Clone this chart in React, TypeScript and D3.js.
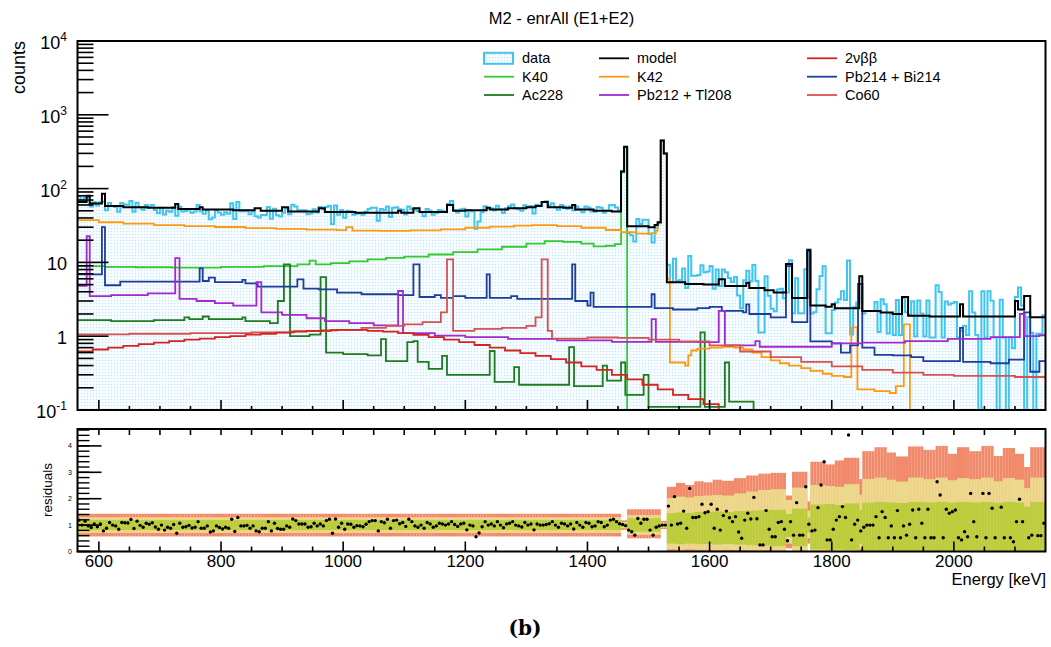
import React from "react";
import * as d3 from "d3";

type Step = [number, number];

const E_MIN = 565;
const E_MAX = 2150;
const BIN = 5;

// histograms as [lower bin edge (keV), counts]
const modelSteps: Step[] = [
  [565, 66], [580, 80], [585, 63], [605, 85], [610, 58], [640, 56], [680, 55], [725, 62], [730, 53],
  [765, 56], [770, 52], [820, 51], [855, 54], [865, 50], [900, 56], [910, 49], [960, 54], [970, 48],
  [1020, 47], [1090, 50], [1095, 47], [1115, 54], [1125, 48], [1170, 60], [1180, 50], [1200, 51],
  [1235, 55], [1240, 52], [1270, 54], [1300, 56], [1315, 58], [1325, 66], [1335, 56], [1360, 55],
  [1375, 60], [1380, 52], [1410, 50], [1440, 49], [1455, 170], [1460, 370], [1465, 31], [1500, 30],
  [1510, 32], [1515, 35], [1520, 447], [1525, 300], [1530, 5.4], [1560, 5.1], [1590, 5.0],
  [1615, 5.9], [1625, 4.8], [1660, 5.3], [1665, 4.5], [1690, 4.2], [1705, 3.9], [1725, 9.5],
  [1735, 3.3], [1760, 14.6], [1765, 2.6], [1790, 2.5], [1800, 2.7], [1805, 2.4], [1845, 6.5],
  [1850, 2.2], [1880, 2.1], [1900, 2.0], [1915, 3.4], [1925, 1.9], [1960, 1.85], [2010, 2.7],
  [2015, 1.85], [2100, 3.0], [2105, 2.3], [2115, 3.5], [2125, 1.8],
];

const bbSteps: Step[] = [
  [565, 0.62], [590, 0.66], [615, 0.7], [640, 0.74], [665, 0.78], [690, 0.82], [715, 0.86],
  [740, 0.9], [765, 0.93], [790, 0.97], [815, 1.0], [840, 1.05], [865, 1.08], [890, 1.12],
  [915, 1.15], [940, 1.18], [965, 1.2], [990, 1.22], [1015, 1.22], [1040, 1.18], [1065, 1.15],
  [1090, 1.1], [1115, 1.04], [1140, 0.97], [1165, 0.9], [1190, 0.83], [1215, 0.76], [1240, 0.7],
  [1265, 0.64], [1290, 0.59], [1315, 0.54], [1340, 0.49], [1365, 0.44], [1390, 0.39], [1415, 0.35],
  [1440, 0.3], [1465, 0.26], [1490, 0.22], [1515, 0.19], [1540, 0.16], [1565, 0.14], [1590, 0.12],
  [1615, 0.1], [1640, 0.08],
];

const k40Steps: Step[] = [
  [565, 8.9], [610, 8.7], [660, 8.6], [720, 8.5], [800, 8.7], [870, 8.9], [925, 9.4], [945, 10.6],
  [955, 9.4], [980, 9.8], [1010, 10.3], [1040, 11], [1070, 11.5], [1100, 12], [1140, 12.8],
  [1180, 13.8], [1220, 15], [1260, 16.3], [1300, 18], [1330, 19.4], [1360, 19], [1390, 18],
  [1410, 16.5], [1430, 16.8], [1445, 17.7], [1455, 166], [1460, 365], [1465, 0],
];

const k42Steps: Step[] = [
  [565, 37.5], [600, 35], [640, 33.5], [690, 32], [740, 31], [790, 30.2], [840, 29.2], [890, 28.4],
  [940, 27.8], [990, 27.3], [1005, 30], [1015, 27], [1060, 26.8], [1110, 27.2], [1160, 28],
  [1200, 29.5], [1240, 30.5], [1280, 31.5], [1310, 32], [1350, 31], [1390, 29.5], [1430, 27.5],
  [1455, 25.6], [1480, 24.5], [1505, 25], [1512, 27], [1515, 35], [1520, 447], [1525, 300],
  [1530, 6], [1535, 0.44], [1560, 0.4], [1565, 0.55], [1570, 0.64], [1580, 0.68], [1600, 0.7],
  [1620, 0.72], [1640, 0.7], [1655, 0.66], [1670, 0.6], [1685, 0.52], [1700, 0.47], [1715, 0.43],
  [1730, 0.4], [1750, 0.37], [1765, 0.34], [1785, 0.31], [1800, 0.29], [1820, 0.28], [1832, 1.32],
  [1842, 0.19], [1870, 0.18], [1895, 0.17], [1905, 0.21], [1918, 1.45], [1928, 0],
];

const biSteps: Step[] = [
  [565, 6.9], [605, 30], [610, 4.9], [635, 5.5], [700, 5.5], [765, 8.3], [770, 5.6], [780, 6.2],
  [790, 5.4], [835, 5.8], [840, 5.2], [860, 4.7], [925, 5.9], [935, 4.4], [960, 4.3], [990, 3.9],
  [1030, 3.7], [1090, 3.6], [1115, 9.4], [1125, 3.4], [1150, 3.6], [1160, 3.3], [1180, 3.5],
  [1200, 3.3], [1235, 6.9], [1240, 3.3], [1275, 3.5], [1285, 3.2], [1375, 9.4], [1380, 3.0],
  [1400, 2.6], [1405, 3.9], [1410, 2.5], [1460, 2.5], [1505, 3.7], [1510, 2.4], [1540, 2.3],
  [1580, 2.4], [1600, 2.5], [1620, 2.2], [1655, 2.1], [1660, 2.7], [1665, 2.0], [1700, 1.8],
  [1725, 8.9], [1735, 1.55], [1760, 14.6], [1765, 0.85], [1800, 0.8], [1815, 0.6], [1830, 0.75],
  [1843, 5.1], [1850, 0.7], [1870, 0.56], [1900, 0.55], [1930, 0.52], [1950, 0.46], [2010, 1.3],
  [2015, 0.45], [2060, 0.43], [2090, 0.48], [2115, 2.1], [2125, 0.33], [2140, 0.46],
];

const acSteps: Step[] = [
  [565, 1.65], [620, 1.6], [690, 1.65], [740, 1.8], [748, 1.7], [770, 1.85], [780, 1.7], [830, 1.7],
  [835, 1.8], [840, 1.6], [880, 1.5], [893, 3.0], [903, 9.4], [913, 1.0], [945, 1.05], [963, 6.3],
  [972, 0.6], [1000, 0.57], [1040, 0.55], [1062, 0.91], [1070, 0.46], [1105, 0.83], [1115, 0.86],
  [1122, 0.45], [1140, 0.36], [1162, 0.54], [1170, 0.3], [1240, 0.63], [1248, 0.24], [1280, 0.38],
  [1288, 0.22], [1370, 0.71], [1378, 0.21], [1425, 0.4], [1432, 0.25], [1455, 0.44], [1462, 0.16],
  [1492, 0.3], [1500, 0.11], [1585, 1.13], [1592, 0.11], [1625, 0.44], [1632, 0.13], [1672, 0],
];

const tlSteps: Step[] = [
  [565, 4.8], [580, 22.6], [585, 3.5], [620, 3.6], [680, 3.8], [725, 11.4], [732, 3.2], [760, 3.0],
  [790, 2.8], [820, 2.6], [858, 5.4], [866, 2.1], [900, 1.95], [940, 1.75], [970, 1.6], [1010, 1.5],
  [1050, 1.4], [1090, 4.1], [1098, 1.1], [1150, 1.02], [1200, 0.97], [1270, 0.92], [1350, 0.88],
  [1440, 0.84], [1505, 1.7], [1512, 0.84], [1580, 0.83], [1615, 2.2], [1625, 0.75], [1675, 0.86],
  [1682, 0.72], [1720, 0.72], [1800, 0.8], [1850, 0.82], [1920, 0.86], [1990, 0.92], [2060, 0.97],
  [2108, 2.0], [2116, 1.0], [2140, 1.03],
];

const coSteps: Step[] = [
  [565, 1.06], [650, 1.08], [750, 1.1], [850, 1.13], [920, 1.17], [980, 1.22], [1030, 1.3],
  [1070, 1.38], [1100, 1.45], [1130, 1.55], [1160, 2.1], [1170, 11], [1180, 1.18], [1215, 1.26],
  [1260, 1.3], [1300, 1.38], [1315, 1.8], [1325, 11], [1335, 1.18], [1342, 0.93], [1400, 0.96],
  [1450, 0.95], [1500, 0.9], [1550, 0.85], [1600, 0.75], [1650, 0.62], [1700, 0.52], [1750, 0.45],
  [1800, 0.39], [1850, 0.35], [1900, 0.32], [1950, 0.3], [2000, 0.29], [2100, 0.28],
];

// data / model per 5 keV bin
const resLow = [
  1.19, 1.0, 1.15, 0.97, 0.91, 1.04, 0.94, 1.04, 0.78, 0.88,
  1.1, 1.0, 0.97, 0.84, 1.1, 1.09, 1.08, 1.21, 0.87, 1.15,
  0.99, 0.92, 1.07, 1.03, 1.09, 0.93, 0.84, 1.0, 0.81, 0.92,
  0.88, 1.02, 0.69, 1.07, 0.92, 0.94, 0.99, 0.89, 0.92, 1.13,
  0.88, 0.88, 0.97, 0.74, 0.78, 0.97, 0.91, 0.85, 0.92, 0.88,
  1.22, 0.76, 1.29, 0.97, 0.97, 0.99, 0.88, 0.97, 0.78, 0.75,
  0.88, 0.88, 1.13, 0.78, 1.07, 0.87, 0.84, 0.84, 0.97, 0.92,
  1.23, 1.17, 1.04, 1.04, 1.04, 0.92, 0.94, 1.07, 0.97, 1.04,
  0.97, 1.17, 1.22, 0.69, 1.23, 0.92, 1.07, 0.84, 1.04, 1.03,
  0.92, 0.98, 0.97, 0.94, 1.03, 1.13, 1.17, 1.17, 0.78, 1.13,
  1.09, 1.22, 0.88, 1.17, 1.19,
];
const resMid = [
  1.05, 1.1, 0.95, 1.22, 1.13, 0.97, 0.92, 1.0, 0.88, 1.1,
  1.04, 0.92, 0.97, 1.07, 1.04, 1.0, 1.04, 1.13, 1.02, 0.95,
  1.04, 1.07, 0.82, 1.0, 0.97, 0.56, 0.7, 0.94, 1.13, 1.0,
  1.04, 0.97, 1.13, 1.0, 0.9, 1.04, 1.07, 1.13, 1.0, 0.97,
  0.93, 1.1, 1.0, 1.04, 0.82, 1.04, 1.0, 1.0, 1.02, 1.05,
  1.13, 1.0, 0.92, 1.07, 1.04, 0.97, 1.04, 0.85, 1.1, 1.0,
  0.92, 1.1, 1.07, 0.94, 0.97, 1.13, 1.1, 0.94, 1.0, 1.19,
  1.22, 1.13, 1.05,
];
const resPeak = [1.02, 0.98, 0.81, 0.75, 0.62, 1.25, 1.07, 1.22, 1.22, 0.81, 0.62, 0.92, 0.97, 1.0, 1.0];
const resHigh = [
  1.72, 1.0, 2.08, 1.04, 1.07, 1.53, 0.88, 2.39, 1.29, 1.29,
  1.32, 1.79, 1.47, 1.51, 1.79, 0.88, 1.6, 0.81, 1.36, 1.53,
  1.28, 1.13, 1.32, 0.74, 0.5, 1.19, 1.45, 1.23, 2.05, 1.24,
  0.25, 0.25, 1.55, 0.84, 0.56, 0.56, 1.1, 1.13, 0.84, 0.41,
  1.13, 0.62, 1.85, 0.62, 0.62, 2.45, 1.03, 0.78, 0.81, 1.66,
  2.52, 3.4, 0.44, 0.44, 0.84, 1.19, 1.32, 1.7, 1.29, 4.41,
  0.44, 1.03, 1.19, 0.78, 0.92, 1.0, 1.0, 1.0, 1.32, 0.52,
  1.51, 1.29, 0.52, 0.97, 0.52, 1.55, 0.52, 0.97, 0.62, 1.03,
  1.57, 0.52, 1.6, 1.07, 0.52, 1.6, 0.52, 0.52, 2.64, 2.14,
  0.52, 1.6, 1.45, 1.51, 1.57, 0.52, 0.44, 0.75, 0.56, 2.2,
  1.13, 0.56, 0, 2.2, 0.52, 2.2, 1.64, 0.52, 0, 1.68,
  0.52, 0, 0.52, 0.37, 1.13, 1.98, 1.13, 0, 0.52, 0.62,
  0, 0.6, 0.6, 1.07,
];

// residual bands: lower edges and [lo, hi] for 1, 2, 3 sigma
const bandEdges = [
  565, 1455, 1465, 1520, 1530, 1545, 1560, 1575, 1590, 1605, 1620, 1640, 1660, 1680, 1700, 1725,
  1735, 1760, 1765, 1790, 1805, 1820, 1845, 1850, 1870, 1890, 1905, 1925, 1950, 1970, 1990, 2005,
  2025, 2045, 2065, 2080, 2100, 2115, 2125,
];
const band1: Step[] = [
  [0.81, 1.19], [0.94, 1.06], [0.75, 1.26], [0.95, 1.05], [0.3, 1.45], [0.28, 1.48], [0.3, 1.46],
  [0.28, 1.5], [0.28, 1.5], [0.26, 1.52], [0.28, 1.5], [0.26, 1.53], [0.24, 1.55], [0.22, 1.57],
  [0.2, 1.58], [0.55, 1.42], [0.2, 1.62], [0.72, 1.28], [0.08, 1.78], [0.06, 1.8], [0.08, 1.76],
  [0.06, 1.82], [0.3, 1.58], [0, 1.85], [0, 1.88], [0, 1.86], [0, 1.84], [0, 1.88], [0, 1.86],
  [0, 1.88], [0, 1.85], [0, 1.88], [0, 1.86], [0, 1.88], [0, 1.84], [0, 1.88], [0, 1.86], [0, 1.7],
  [0, 1.88],
];
const band2: Step[] = [
  [0.7, 1.3], [0.88, 1.12], [0.63, 1.38], [0.9, 1.1], [0.08, 2.02], [0.06, 2.08], [0.08, 2.05],
  [0.06, 2.1], [0.06, 2.12], [0.05, 2.14], [0.06, 2.12], [0.05, 2.2], [0.04, 2.27], [0.03, 2.33],
  [0.03, 2.36], [0.3, 1.95], [0.02, 2.42], [0.5, 1.55], [0, 2.52], [0, 2.48], [0, 2.45], [0, 2.55],
  [0.1, 2.15], [0, 2.75], [0, 2.8], [0, 2.72], [0, 2.65], [0, 2.8], [0, 2.74], [0, 2.8], [0, 2.7],
  [0, 2.78], [0, 2.74], [0, 2.8], [0, 2.66], [0, 2.78], [0, 2.72], [0, 2.4], [0, 2.8],
];
const band3: Step[] = [
  [0.57, 1.43], [0.82, 1.18], [0.5, 1.6], [0.85, 1.16], [0, 2.45], [0, 2.6], [0, 2.52], [0, 2.66],
  [0, 2.62], [0, 2.72], [0, 2.68], [0, 2.78], [0, 2.88], [0, 2.95], [0, 2.98], [0.12, 2.12],
  [0, 3.02], [0.3, 1.9], [0, 3.4], [0, 3.3], [0, 3.45], [0, 3.55], [0, 2.75], [0, 3.8], [0, 3.95],
  [0, 3.75], [0, 3.6], [0, 3.98], [0, 3.85], [0, 4.0], [0, 3.7], [0, 3.95], [0, 3.8], [0, 4.0],
  [0, 3.62], [0, 3.92], [0, 3.7], [0, 3.2], [0, 3.95],
];

const xTickLabels = [600, 800, 1000, 1200, 1400, 1600, 1800, 2000];
const residualTicks = [0, 1, 2, 3, 4];

const C = {
  data: "#3fc5f0",
  model: "#000000",
  bb: "#d42323",
  k40: "#2fcb2f",
  k42: "#ff9a10",
  bi: "#1d3d9a",
  ac: "#1e7b1e",
  tl: "#a22ad0",
  co: "#d65252",
};

const FONT = "'Liberation Sans', Arial, Helvetica, sans-serif";
const PL = 77.5, PR = 1045.5, PT = 41, PB = 410;
const RT = 429, RB = 551.5;

function valueAt(steps: Step[], e: number) {
  let v = steps[0][1];
  for (const s of steps) {
    if (s[0] <= e) v = s[1];
    else break;
  }
  return v;
}

function closeSteps(steps: Step[]): Step[] {
  return [...steps, [E_MAX, steps[steps.length - 1][1]]];
}

export default function App() {
  const x = d3.scaleLinear().domain([E_MIN, E_MAX]).range([PL, PR]);
  const y = d3.scaleLog().domain([0.1, 1e4]).range([PB, PT]);
  const yr = d3.scaleLinear().domain([0, 4.64]).range([RB, RT]);

  const ly = (v: number) => y(Math.min(Math.max(v, 0.1), 1e4));
  const line = d3.line<Step>().x((d) => x(d[0])).y((d) => ly(d[1])).curve(d3.curveStepAfter);
  const area = d3
    .area<Step>()
    .x((d) => x(d[0]))
    .y0(PB)
    .y1((d) => ly(d[1]))
    .curve(d3.curveStepAfter);

  const residuals = [...resLow, ...resMid, ...resPeak, ...resHigh];
  const bins = residuals.map((r, i) => {
    const lo = E_MIN + i * BIN;
    return { lo, r, d: r * valueAt(modelSteps, lo + BIN / 2) };
  });
  const dataSteps: Step[] = closeSteps(bins.map((b) => [b.lo, b.d] as Step));

  const bandIndex = (e: number) => {
    let k = 0;
    bandEdges.forEach((b, i) => {
      if (b <= e) k = i;
    });
    return k;
  };

  const components: [Step[], string][] = [
    [k40Steps, C.k40],
    [acSteps, C.ac],
    [k42Steps, C.k42],
    [biSteps, C.bi],
    [tlSteps, C.tl],
    [coSteps, C.co],
    [bbSteps, C.bb],
  ];

  const yMajor = [-1, 0, 1, 2, 3, 4];
  const yMinor: number[] = [];
  for (let k = -1; k < 4; k++) for (let m = 2; m <= 9; m++) yMinor.push(m * Math.pow(10, k));
  const xMinor = d3.range(600, E_MAX, 50);
  const rMinor = d3.range(0, 4.64, 0.2);

  const legend: { label: string; color: string; col: number; row: number; box?: boolean }[] = [
    { label: "data", color: C.data, col: 0, row: 0, box: true },
    { label: "model", color: C.model, col: 1, row: 0 },
    { label: "2νββ", color: C.bb, col: 2, row: 0 },
    { label: "K40", color: C.k40, col: 0, row: 1 },
    { label: "K42", color: C.k42, col: 1, row: 1 },
    { label: "Pb214 + Bi214", color: C.bi, col: 2, row: 1 },
    { label: "Ac228", color: C.ac, col: 0, row: 2 },
    { label: "Pb212 + Tl208", color: C.tl, col: 1, row: 2 },
    { label: "Co60", color: C.co, col: 2, row: 2 },
  ];
  const legendCols = [484, 599, 807];
  const legendRows = [58.3, 76.7, 95];

  return (
    <svg
      width={1051}
      height={647}
      style={{ position: "absolute", left: 0, top: 0, background: "#fff" }}
      fontFamily={FONT}
    >
      <defs>
        <pattern id="dots" width="3" height="3" patternUnits="userSpaceOnUse">
          <rect width="3" height="3" fill="#f5fbfe" />
          <rect width="1" height="1" fill="#bde5f5" />
        </pattern>
        <clipPath id="topClip">
          <rect x={PL} y={PT - 1} width={PR - PL + 1} height={PB - PT + 2} />
        </clipPath>
      </defs>

      <text x={561.5} y={24} textAnchor="middle" fontSize={16.5}>
        M2 - enrAll (E1+E2)
      </text>

      {/* top panel */}
      <g clipPath="url(#topClip)">
        <path d={area(dataSteps) ?? ""} fill="url(#dots)" />
        <path d={line(dataSteps) ?? ""} fill="none" stroke={C.data} strokeWidth={2} />
        {components.map(([s, c], i) => (
          <path key={i} d={line(closeSteps(s)) ?? ""} fill="none" stroke={c} strokeWidth={1.8} />
        ))}
        <path d={line(closeSteps(modelSteps)) ?? ""} fill="none" stroke={C.model} strokeWidth={2} />
      </g>
      <rect x={PL} y={PT} width={PR - PL} height={PB - PT} fill="none" stroke="#000" strokeWidth={2} />
      {yMajor.map((k) => (
        <line key={"ym" + k} x1={PL} x2={PL + 31} y1={y(Math.pow(10, k))} y2={y(Math.pow(10, k))} stroke="#000" strokeWidth={1.6} />
      ))}
      {yMinor.map((v, i) => (
        <line key={"yn" + i} x1={PL} x2={PL + 16} y1={y(v)} y2={y(v)} stroke="#000" strokeWidth={1.6} />
      ))}
      {yMajor.map((k) => (
        <text key={"yl" + k} x={67} y={y(Math.pow(10, k)) + 8} textAnchor="end" fontSize={18}>
          {k === 0 ? "1" : "10"}
          {k !== 0 && k !== 1 ? (
            <tspan dy={-8} fontSize={12}>
              {String(k)}
            </tspan>
          ) : null}
        </text>
      ))}
      {xMinor.map((e) => (
        <line key={"tx" + e} x1={x(e)} x2={x(e)} y1={PB} y2={PB - (e % 200 === 0 ? 10 : 4)} stroke="#000" strokeWidth={1.6} />
      ))}
      <text transform={`translate(25,${PT}) rotate(-90)`} textAnchor="end" fontSize={18}>
        counts
      </text>

      {/* legend */}
      {legend.map((l) => {
        const lx = legendCols[l.col];
        const cy = legendRows[l.row];
        return (
          <g key={l.label}>
            {l.box ? (
              <rect x={lx} y={cy - 5.5} width={29} height={11} fill="url(#dots)" stroke={l.color} strokeWidth={2} />
            ) : (
              <line x1={lx} x2={lx + 30} y1={cy} y2={cy} stroke={l.color} strokeWidth={1.8} />
            )}
            <text x={lx + 38} y={cy + 5} fontSize={14.5}>
              {l.label}
            </text>
          </g>
        );
      })}

      {/* residual panel */}
      <g>
        {[band3, band2, band1].map((band, bi) => (
          <g key={"b" + bi}>
            {bins.map((b) => {
              const [lo, hi] = band[bandIndex(b.lo + BIN / 2)];
              return (
                <rect
                  key={b.lo}
                  x={x(b.lo)}
                  width={x(b.lo + BIN) - x(b.lo)}
                  y={yr(hi)}
                  height={yr(lo) - yr(hi)}
                  fill={["#f08a6b", "#ecd98c", "#bccd3c"][bi]}
                />
              );
            })}
          </g>
        ))}
        {bins
          .filter((b) => b.r > 0)
          .map((b) => (
            <circle key={"p" + b.lo} cx={x(b.lo + BIN / 2)} cy={yr(b.r)} r={1.7} fill="#000" />
          ))}
      </g>
      <rect x={PL} y={RT} width={PR - PL} height={RB - RT} fill="none" stroke="#000" strokeWidth={2} />
      {residualTicks.map((t) => (
        <g key={"rt" + t}>
          <line x1={PL} x2={PL + 24} y1={yr(t)} y2={yr(t)} stroke="#000" strokeWidth={1.6} />
          <text x={72} y={yr(t) + 2.5} textAnchor="end" fontSize={7}>
            {t}
          </text>
        </g>
      ))}
      {rMinor.map((v, i) => (
        <line key={"rm" + i} x1={PL} x2={PL + 12} y1={yr(v)} y2={yr(v)} stroke="#000" strokeWidth={1.4} />
      ))}
      {xMinor.map((e) => (
        <g key={"rx" + e}>
          <line x1={x(e)} x2={x(e)} y1={RB} y2={RB - (e % 200 === 0 ? 10 : 5)} stroke="#000" strokeWidth={1.6} />
          <line x1={x(e)} x2={x(e)} y1={RT} y2={RT + 6} stroke="#000" strokeWidth={1.6} />
        </g>
      ))}
      {xTickLabels.map((e) => (
        <text key={"xl" + e} x={x(e)} y={567} textAnchor="middle" fontSize={17}>
          {e}
        </text>
      ))}
      <text transform="translate(52,490) rotate(-90)" textAnchor="middle" fontSize={13.5}>
        residuals
      </text>
      <text x={1046} y={585} textAnchor="end" fontSize={16.5}>
        Energy [keV]
      </text>

      <text x={525} y={635} textAnchor="middle" fontSize={20} fontWeight="bold" fontFamily="'DejaVu Serif', serif">
        (b)
      </text>
    </svg>
  );
}
